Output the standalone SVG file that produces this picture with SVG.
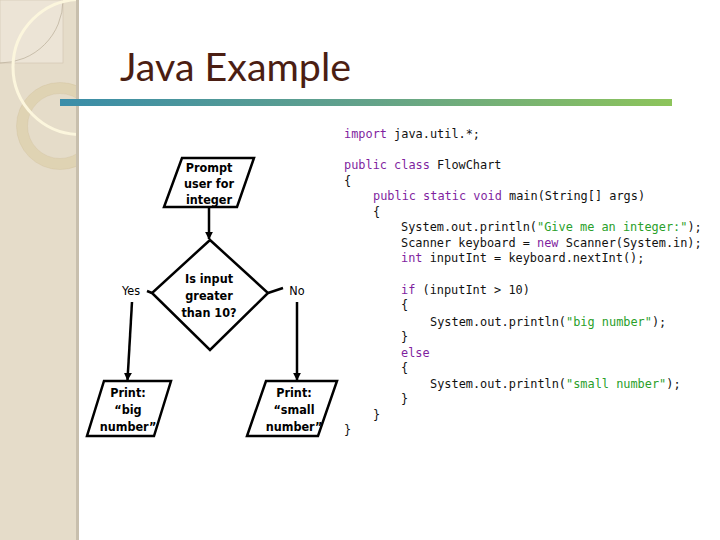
<svg xmlns="http://www.w3.org/2000/svg" width="720" height="540" viewBox="0 0 720 540">
<style>
.code{font-family:"DejaVu Sans Mono","Liberation Mono",monospace;font-size:11.9px;fill:#111}
.kw{fill:#7f1f9f}
.str{fill:#2aa02a}
.fc{font-family:"DejaVu Sans Condensed","DejaVu Sans",sans-serif;font-size:12.5px;font-weight:bold;fill:#000;text-anchor:middle}
.lbl{font-family:"DejaVu Sans Condensed","DejaVu Sans",sans-serif;font-size:12.5px;fill:#000;text-anchor:middle}
.shape{fill:#fff;stroke:#000;stroke-width:2.5;stroke-linejoin:miter}
.con{stroke:#000;stroke-width:2.5;fill:none}
</style>
<defs>
<linearGradient id="bar" x1="0" y1="0" x2="1" y2="0">
<stop offset="0" stop-color="#3a8da9"/>
<stop offset="0.5" stop-color="#63a28a"/>
<stop offset="1" stop-color="#8dc45b"/>
</linearGradient>
<clipPath id="side"><rect x="0" y="0" width="77" height="540"/></clipPath>
<marker id="arr" viewBox="0 0 10 10" refX="9" refY="5" markerWidth="3.2" markerHeight="3.6" orient="auto" markerUnits="strokeWidth">
<path d="M0,0 L10,5 L0,10 z" fill="#000"/>
</marker>
</defs>
<rect width="720" height="540" fill="#fff"/>
<g id="sidebar">
<rect x="0" y="0" width="77" height="540" fill="#e5dcc9"/>
<rect x="0" y="0" width="63" height="63" fill="#ece4d6" stroke="#cfc4ae" stroke-width="0.6"/>
<g clip-path="url(#side)">
<path d="M63,0 A63,63 0 0 1 0,63" fill="none" stroke="#b9ae98" stroke-width="0.7"/>
<circle cx="60" cy="126" r="38" fill="none" stroke="#d8c594" stroke-opacity="0.4" stroke-width="11"/>
<circle cx="60" cy="126" r="43.5" fill="none" stroke="#cdbd98" stroke-opacity="0.5" stroke-width="0.6"/>
<circle cx="60" cy="126" r="32.5" fill="none" stroke="#cdbd98" stroke-opacity="0.5" stroke-width="0.6"/>
<circle cx="80.5" cy="67" r="67.5" fill="none" stroke="#fcf6dd" stroke-width="3"/>
</g>
<rect x="76" y="0" width="3" height="540" fill="#c8bfad"/>
</g>
<g id="title">
<text x="120" y="81" font-family="Lato,'Open Sans',sans-serif" font-size="39" fill="#4b1e13" textLength="231" lengthAdjust="spacingAndGlyphs">Java Example</text>
<rect x="60" y="99" width="612" height="7" fill="url(#bar)"/>
</g>
<g id="connectors">
<line class="con" x1="209" y1="207" x2="209" y2="239" marker-end="url(#arr)"/>
<line class="con" x1="152" y1="293" x2="147" y2="291"/>
<line class="con" x1="268" y1="293" x2="283" y2="288"/>
<line class="con" x1="132" y1="302" x2="127.5" y2="380" marker-end="url(#arr)"/>
<line class="con" x1="297" y1="302" x2="297" y2="380" marker-end="url(#arr)"/>
</g>
<g id="prompt">
<polygon class="shape" points="182,158 254,158 237,207 164,207"/>
<text class="fc" x="209" y="172">Prompt</text>
<text class="fc" x="209" y="188">user for</text>
<text class="fc" x="209" y="204">integer</text>
</g>
<g id="decision">
<polygon class="shape" points="210,240 268,293 210,350 152,293"/>
<text class="fc" x="209" y="283">Is input</text>
<text class="fc" x="209" y="300">greater</text>
<text class="fc" x="209" y="317">than 10?</text>
</g>
<g id="yes-label"><text class="lbl" x="131" y="295">Yes</text></g>
<g id="no-label"><text class="lbl" x="297" y="295">No</text></g>
<g id="print-big">
<polygon class="shape" points="104,381 171,381 154,436 87,436"/>
<text class="fc" x="128" y="397">Print:</text>
<text class="fc" x="128" y="414">“big</text>
<text class="fc" x="128" y="431">number”</text>
</g>
<g id="print-small">
<polygon class="shape" points="266,381 337,381 318,436 247,436"/>
<text class="fc" x="294" y="397">Print:</text>
<text class="fc" x="294" y="414">“small</text>
<text class="fc" x="294" y="431">number”</text>
</g>
<g id="code" class="code">
<text x="344" y="138"><tspan class="kw">import</tspan> java.util.*;</text>
<text x="344" y="169"><tspan class="kw">public class</tspan> FlowChart</text>
<text x="344" y="185">{</text>
<text x="373" y="200"><tspan class="kw">public static void</tspan> main(String[] args)</text>
<text x="373" y="216">{</text>
<text x="401" y="231">System.out.println(<tspan class="str">"Give me an integer:"</tspan>);</text>
<text x="401" y="247">Scanner keyboard = <tspan class="kw">new</tspan> Scanner(System.in);</text>
<text x="401" y="262"><tspan class="kw">int</tspan> inputInt = keyboard.nextInt();</text>
<text x="401" y="294"><tspan class="kw">if</tspan> (inputInt &gt; 10)</text>
<text x="401" y="309">{</text>
<text x="430" y="326">System.out.println(<tspan class="str">"big number"</tspan>);</text>
<text x="401" y="341">}</text>
<text x="401" y="357"><tspan class="kw">else</tspan></text>
<text x="401" y="372">{</text>
<text x="430" y="388">System.out.println(<tspan class="str">"small number"</tspan>);</text>
<text x="401" y="403">}</text>
<text x="373" y="419">}</text>
<text x="344" y="434">}</text>
</g>
</svg>
